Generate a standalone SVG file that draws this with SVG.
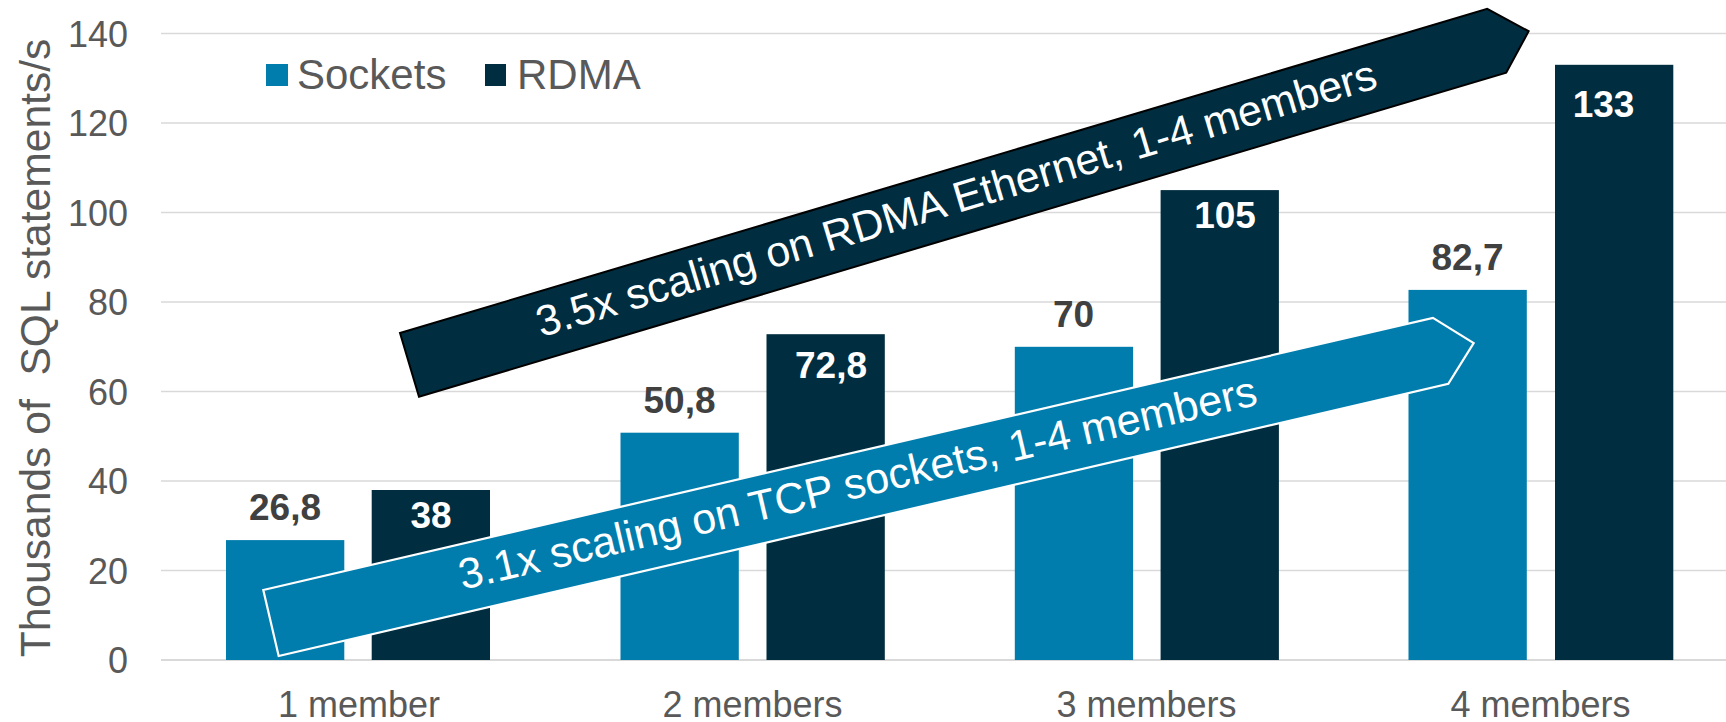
<svg xmlns="http://www.w3.org/2000/svg" width="1726" height="722" viewBox="0 0 1726 722">
  <style>
    .grid { stroke: #d9d9d9; stroke-width: 1.5; }
    .axis { stroke: #d9d9d9; stroke-width: 2.2; }
    .tick { font-family: "Liberation Sans", Arial, sans-serif; font-size: 36px; fill: #595959; text-anchor: end; }
    .cat { font-family: "Liberation Sans", Arial, sans-serif; font-size: 36px; fill: #595959; text-anchor: middle; }
    .title { font-family: "Liberation Sans", Arial, sans-serif; font-size: 42.6px; fill: #595959; text-anchor: middle; white-space: pre; }
    .legend { font-family: "Liberation Sans", Arial, sans-serif; font-size: 42px; fill: #595959; }
    .val { font-family: "Liberation Sans", Arial, sans-serif; font-size: 37px; font-weight: bold; text-anchor: middle; }
    .val-out { fill: #404040; }
    .val-in { fill: #ffffff; }
    .sockets { fill: #007dad; }
    .rdma { fill: #002d3f; }
    .banner-text { font-family: "Liberation Sans", Arial, sans-serif; font-size: 43px; fill: #ffffff; }
  </style>

  <rect width="1726" height="722" fill="#ffffff"/>

  <!-- gridlines -->
  <g id="gridlines">
    <line class="grid" x1="161" y1="33.5" x2="1726" y2="33.5"/>
    <line class="grid" x1="161" y1="123" x2="1726" y2="123"/>
    <line class="grid" x1="161" y1="212.5" x2="1726" y2="212.5"/>
    <line class="grid" x1="161" y1="302" x2="1726" y2="302"/>
    <line class="grid" x1="161" y1="391.5" x2="1726" y2="391.5"/>
    <line class="grid" x1="161" y1="481" x2="1726" y2="481"/>
    <line class="grid" x1="161" y1="570.5" x2="1726" y2="570.5"/>
    <line class="axis" x1="161" y1="660" x2="1726" y2="660"/>
  </g>

  <!-- y axis -->
  <g id="y-axis">
    <text class="tick" x="128" y="47">140</text>
    <text class="tick" x="128" y="136">120</text>
    <text class="tick" x="128" y="225.5">100</text>
    <text class="tick" x="128" y="315">80</text>
    <text class="tick" x="128" y="404.5">60</text>
    <text class="tick" x="128" y="494">40</text>
    <text class="tick" x="128" y="583.5">20</text>
    <text class="tick" x="128" y="673">0</text>
    <text class="title" transform="translate(50,348) rotate(-90)">Thousands of  SQL statements/s</text>
  </g>

  <!-- legend -->
  <g id="legend">
    <rect class="sockets" x="266" y="64" width="22" height="22"/>
    <text class="legend" x="297" y="89">Sockets</text>
    <rect class="rdma" x="485" y="64" width="21" height="22"/>
    <text class="legend" x="517" y="89">RDMA</text>
  </g>

  <!-- bars: 1 member -->
  <g id="cat-1">
    <rect class="sockets" x="226" y="540.1" width="118.3" height="119.9"/>
    <rect class="rdma" x="371.7" y="490" width="118.3" height="170"/>
    <text class="val val-out" x="285" y="520">26,8</text>
    <text class="val val-in" x="431" y="528">38</text>
    <text class="cat" x="359" y="717">1 member</text>
  </g>

  <!-- bars: 2 members -->
  <g id="cat-2">
    <rect class="sockets" x="620.5" y="432.7" width="118.3" height="227.3"/>
    <rect class="rdma" x="766.5" y="334.2" width="118.3" height="325.8"/>
    <text class="val val-out" x="679.5" y="413">50,8</text>
    <text class="val val-in" x="831" y="378">72,8</text>
    <text class="cat" x="752.5" y="717">2 members</text>
  </g>

  <!-- bars: 3 members -->
  <g id="cat-3">
    <rect class="sockets" x="1014.8" y="346.8" width="118.3" height="313.2"/>
    <rect class="rdma" x="1160.6" y="190.1" width="118.3" height="469.9"/>
    <text class="val val-out" x="1073.5" y="327">70</text>
    <text class="val val-in" x="1225" y="228">105</text>
    <text class="cat" x="1146.5" y="717">3 members</text>
  </g>

  <!-- bars: 4 members -->
  <g id="cat-4">
    <rect class="sockets" x="1408.5" y="289.9" width="118.3" height="370.1"/>
    <rect class="rdma" x="1555" y="64.8" width="118.3" height="595.2"/>
    <text class="val val-out" x="1467.5" y="270">82,7</text>
    <text class="val val-in" x="1603.5" y="117">133</text>
    <text class="cat" x="1540.5" y="717">4 members</text>
  </g>

  <!-- scaling banners -->
  <g id="banner-rdma" transform="translate(400,333) rotate(-16.6)">
    <polygon points="0,0 1134.5,0 1167.8,33.25 1134.5,66.5 0,66.5" fill="#002d3f" stroke="#000000" stroke-width="2" stroke-linejoin="miter"/>
    <text class="banner-text" x="134" y="44.5">3.5x scaling on RDMA Ethernet, 1-4 members</text>
  </g>

  <g id="banner-tcp" transform="translate(263.3,590) rotate(-13.1)">
    <polygon points="0,0 1200.9,0 1234.8,33.9 1200.9,67.8 0,67.8" fill="#007dad" stroke="#ffffff" stroke-width="2.2" stroke-linejoin="miter"/>
    <text class="banner-text" x="194" y="45">3.1x scaling on TCP sockets, 1-4 members</text>
  </g>
</svg>
